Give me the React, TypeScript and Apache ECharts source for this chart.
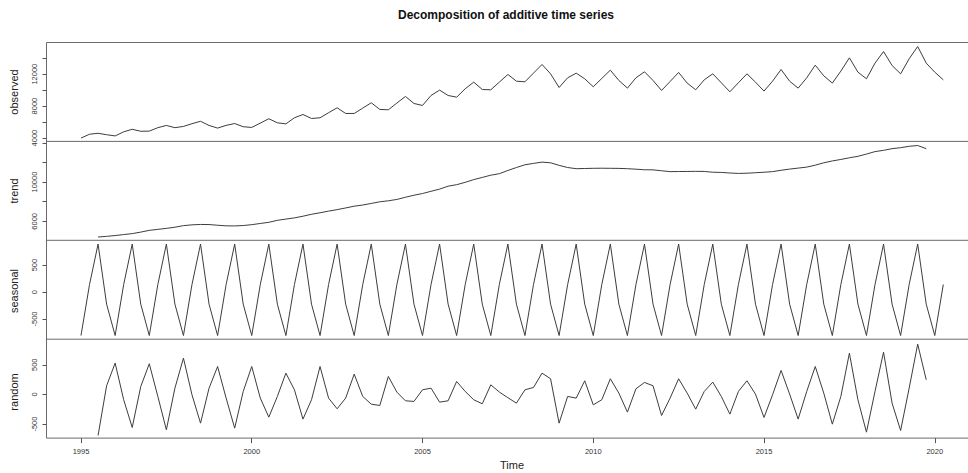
import React, { useEffect, useRef } from "react";
import * as echarts from "echarts";

// Quarterly series, starting 1995 Q1
const START = 1995;
const FREQ = 4;
const TREND_START = 1995.5;

const OBSERVED = [
  4000, 4480, 4600, 4420, 4270, 4780, 5100, 4850, 4870, 5300, 5580, 5300,
  5460, 5800, 6100, 5580, 5250, 5590, 5820, 5420, 5330, 5870, 6420, 5910,
  5780, 6540, 6950, 6450, 6540, 7170, 7790, 7080, 7080, 7750, 8420, 7580,
  7540, 8380, 9210, 8330, 8080, 9330, 10000, 9330, 9120, 10170, 11000, 10080,
  10040, 11000, 11960, 11120, 11040, 12130, 13210, 12040, 10330, 11540, 12120, 11420,
  10420, 11460, 12500, 11210, 10250, 11540, 12290, 11210, 9960, 11080, 12210, 10880,
  10040, 11290, 12040, 10920, 9790, 10920, 12040, 11000, 9880, 11120, 12580, 11120,
  10250, 11540, 13120, 11790, 10880, 12380, 14040, 12250, 11420, 13380, 14830, 13080,
  12040, 13920, 15460, 13380, 12250, 11290,
];

const TREND = [
  4400, 4470, 4550, 4650, 4750, 4900, 5080, 5180, 5280, 5400, 5560, 5640,
  5680, 5670, 5600, 5540, 5530, 5570, 5660, 5780, 5900, 6100, 6230, 6350,
  6520, 6720, 6870, 7040, 7190, 7360, 7540, 7660, 7820, 7990, 8090, 8230,
  8450, 8660, 8830, 9060, 9280, 9580, 9730, 9970, 10250, 10470, 10700, 10850,
  11180, 11480, 11760, 11900, 12030, 11960, 11700, 11480, 11360, 11380, 11400, 11410,
  11400, 11390, 11360, 11310, 11250, 11240, 11150, 11060, 11070, 11080, 11090, 11080,
  11000, 10980, 10920, 10880, 10900, 10950, 11000, 11060, 11200, 11320, 11420, 11520,
  11720, 11960, 12150, 12300, 12470, 12620, 12850, 13100, 13230, 13400, 13500, 13640,
  13720, 13400,
];

const SEASONAL = [
  -806, 140, 890, -224, -806, 140, 890, -224, -806, 140, 890, -224,
  -806, 140, 890, -224, -806, 140, 890, -224, -806, 140, 890, -224,
  -806, 140, 890, -224, -806, 140, 890, -224, -806, 140, 890, -224,
  -806, 140, 890, -224, -806, 140, 890, -224, -806, 140, 890, -224,
  -806, 140, 890, -224, -806, 140, 890, -224, -806, 140, 890, -224,
  -806, 140, 890, -224, -806, 140, 890, -224, -806, 140, 890, -224,
  -806, 140, 890, -224, -806, 140, 890, -224, -806, 140, 890, -224,
  -806, 140, 890, -224, -806, 140, 890, -224, -806, 140, 890, -224,
  -806, 140, 890, -224, -806, 140,
];

const RANDOM = [
  -692, 146, 528, -90, -557, 134, 517, -34, -596, 106, 612, -6,
  -484, 106, 471, -62, -568, 50, 471, -62, -383, -34, 359, 78,
  -416, -90, 471, -62, -242, -62, 342, -34, -164, -186, 303, 39,
  -107, -118, 78, 106, -130, -107, 219, 50, -90, -158, 162, 40,
  -55, -147, 78, 117, 359, 264, -484, -34, -62, 230, -175, -90,
  264, 22, -298, 95, 202, 146, -355, -62, 264, 22, -248, 50,
  207, -34, -332, 50, 230, 5, -388, -6, 404, 5, -416, 50,
  471, 22, -501, -34, 696, -90, -636, 50, 713, -147, -608, 106,
  848, 247,
];

const PANEL_NAMES = ["observed", "trend", "seasonal", "random"];
const X_TICKS = [1995, 2000, 2005, 2010, 2015, 2020];
const OBS_TICKS = [4000, 6000, 8000, 10000, 12000, 14000];
const OBS_LABELS = [4000, 8000, 12000];
const TREND_TICKS = [6000, 8000, 10000, 12000, 14000];
const TREND_LABELS = [6000, 10000];
const SEAS_TICKS = [-500, 0, 500];
const RAND_TICKS = [-500, 0, 500];

const X_RANGE = [1993.99, 2021.26];
const Y_RANGES = [
  [3584, 15959],
  [4067, 14140],
  [-874, 960],
  [-736, 931],
];

const FONT = "'Liberation Sans', Arial, sans-serif";

function toPairs(start: number, values: number[]) {
  return values.map((v, i) => [start + i / FREQ, v]);
}

const plain = (v: number) => String(Math.round(v));

export default function App() {
  const ref = useRef<HTMLDivElement>(null);

  useEffect(() => {
    if (!ref.current) return;
    const chart = echarts.init(ref.current, undefined, { renderer: "svg" });

    const seriesData = [
      toPairs(START, OBSERVED),
      toPairs(TREND_START, TREND),
      toPairs(START, SEASONAL),
      toPairs(TREND_START, RANDOM),
    ];
    const tickSets = [OBS_TICKS, TREND_TICKS, SEAS_TICKS, RAND_TICKS];
    const labelSets = [OBS_LABELS, TREND_LABELS, SEAS_TICKS, RAND_TICKS];

    const top0 = 42.5;
    const h = 98.9;
    const left = 46.5;
    const width = 931.3;

    const grids = PANEL_NAMES.map((_, i) => ({
      left,
      width,
      top: top0 + i * h,
      height: h,
      show: false,
      containLabel: false,
      outerBoundsMode: "none",
    }));

    const xAxes = PANEL_NAMES.map((_, i) => ({
      type: "value",
      gridIndex: i,
      position: "bottom",
      min: X_RANGE[0],
      max: X_RANGE[1],
      axisLine: { show: false, onZero: false },
      splitLine: { show: false },
      axisTick: {
        show: i === 3,
        length: 5,
        lineStyle: { color: "#555", width: 1 },
        customValues: X_TICKS,
      },
      axisLabel: {
        show: i === 3,
        customValues: X_TICKS,
        formatter: plain,
        margin: 9,
        fontSize: 7.5,
        color: "#333",
        fontFamily: FONT,
      },
    }));

    const yAxes = PANEL_NAMES.map((_, i) => ({
      type: "value",
      gridIndex: i,
      position: "left",
      min: Y_RANGES[i][0],
      max: Y_RANGES[i][1],
      axisLine: { show: false, onZero: false },
      splitLine: { show: false },
      axisTick: {
        show: true,
        length: 4,
        lineStyle: { color: "#555", width: 1 },
        customValues: tickSets[i],
      },
      axisLabel: {
        show: true,
        customValues: labelSets[i],
        formatter: plain,
        rotate: 90,
        margin: 8,
        fontSize: 7.5,
        color: "#333",
        fontFamily: FONT,
      },
    }));

    const series = PANEL_NAMES.map((name, i) => ({
      name,
      type: "line",
      xAxisIndex: i,
      yAxisIndex: i,
      data: seriesData[i],
      showSymbol: false,
      symbol: "none",
      lineStyle: { color: "#3d3d3d", width: 1 },
      clip: true,
    }));

    const frameStyle = { stroke: "#6a6a6a", lineWidth: 1 };
    const frame: any[] = [];
    for (let i = 0; i <= PANEL_NAMES.length; i++) {
      const y = top0 + i * h;
      frame.push({
        type: "line",
        silent: true,
        shape: { x1: left, y1: y, x2: left + width + 5, y2: y },
        style: frameStyle,
      });
    }
    frame.push({
      type: "line",
      silent: true,
      shape: { x1: left, y1: top0, x2: left, y2: top0 + PANEL_NAMES.length * h },
      style: frameStyle,
    });

    const centers = [92, 191, 291, 392];
    const graphic: any[] = [
      ...frame,
      {
        type: "text",
        x: 506,
        y: 15,
        style: {
          text: "Decomposition of additive time series",
          fontSize: 12,
          fontWeight: "bold",
          fontFamily: FONT,
          fill: "#111",
          align: "center",
          verticalAlign: "middle",
        },
      },
      {
        type: "text",
        x: 512,
        y: 465,
        style: {
          text: "Time",
          fontSize: 11,
          fontFamily: FONT,
          fill: "#222",
          align: "center",
          verticalAlign: "middle",
        },
      },
      ...PANEL_NAMES.map((name, i) => ({
        type: "text",
        x: 14,
        y: centers[i],
        rotation: Math.PI / 2,
        style: {
          text: name,
          fontSize: 11,
          fontFamily: FONT,
          fill: "#222",
          align: "center",
          verticalAlign: "middle",
        },
      })),
    ];

    chart.setOption({
      animation: false,
      backgroundColor: "#ffffff",
      grid: grids,
      xAxis: xAxes,
      yAxis: yAxes,
      series,
      graphic,
    });

    return () => {
      chart.dispose();
    };
  }, []);

  return (
    <div
      ref={ref}
      style={{ position: "absolute", left: 0, top: 0, width: 968, height: 473 }}
    />
  );
}
